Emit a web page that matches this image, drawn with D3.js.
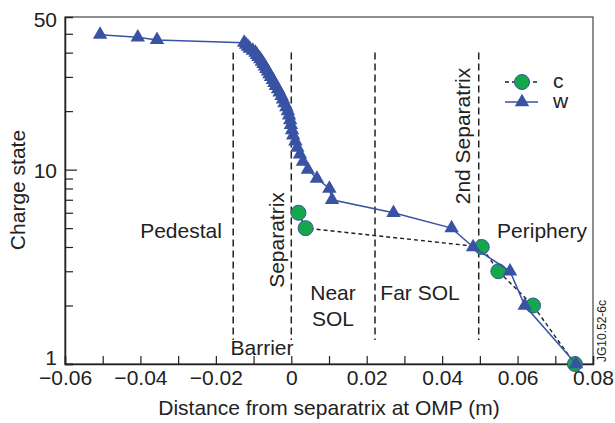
<!DOCTYPE html>
<html>
<head>
<meta charset="utf-8">
<script src="https://cdn.jsdelivr.net/npm/d3@7"></script>
<style>
  body { margin: 0; background: #fff; }
  svg { font-family: "Liberation Sans", Arial, sans-serif; }
</style>
</head>
<body>
<svg id="chart" width="615" height="423"></svg>
<script>
// w: charge state vs distance (m)
var wX = [-0.0507, -0.0407, -0.0356,
    -0.0125, -0.0120, -0.0115, -0.0110, -0.0102, -0.0095, -0.0091, -0.0087, -0.0082, -0.0078,
    -0.0074, -0.0070, -0.0066, -0.0062, -0.0058, -0.0054, -0.0049, -0.0045, -0.0041, -0.0035,
    -0.0031, -0.0026, -0.0022, -0.0018, -0.0013, -0.0009, -0.0006, -0.0003, -0.0001, 0.0002,
    0.0005, 0.0011, 0.0016, 0.0023, 0.0031, 0.0044, 0.0068, 0.0101, 0.0108,
    0.0271, 0.0425, 0.0482, 0.0580, 0.0619, 0.0755];
var wQ = [49.5, 48, 46.5,
    45, 44, 43, 42, 41, 40, 39, 38, 37, 36,
    35, 34, 33, 32, 31, 30, 29, 28, 27, 26,
    25, 24, 23, 22, 21, 20, 19, 18, 17, 16,
    15, 14, 13, 12, 11, 10, 9, 8, 7,
    6, 5, 4, 3, 2, 1];

// c
var cX = [0.0019, 0.0038, 0.0505, 0.0549, 0.0641, 0.0752];
var cQ = [6, 5, 4, 3, 2, 1];

// region boundaries (dashed verticals)
var boundaryX = [-0.0154, 0, 0.0222, 0.0497];
var boundaryQ = [1.33, 40];

var xTicks = [-0.06, -0.05, -0.04, -0.03, -0.02, -0.01, 0, 0.01, 0.02, 0.03, 0.04, 0.05, 0.06, 0.07, 0.08];
var yTicks = [1, 2, 3, 4, 5, 6, 7, 8, 9, 10, 20, 30, 40, 50];
var yLabels = ["1", "10", "50"];

var margin = {t: 17, r: 22, b: 59, l: 65};
var svg = d3.select("#chart"),
    width = +svg.attr("width") - margin.l - margin.r,
    height = +svg.attr("height") - margin.t - margin.b;

var g = svg.append("g").attr("transform", "translate(" + margin.l + "," + margin.t + ")");

var x = d3.scaleLinear().domain([-0.06, 0.08]).range([0, width]);
var y = d3.scaleLog().domain([1, 61]).range([height, 0]);

var blue = "#3953a4", green = "#14a84b", ink = "#222";

// frame
g.append("rect")
    .attr("width", width).attr("height", height)
    .attr("fill", "none").attr("stroke", "#444").attr("stroke-width", 1.2);

// x axis
var xAxis = d3.axisBottom(x)
    .tickValues(xTicks)
    .tickSize(-8)
    .tickPadding(6)
    .tickFormat(function (d) {
        var k = Math.round(d * 100);
        if (k % 2 !== 0) return "";
        return k === 0 ? "0" : d3.format(".2f")(d);
    });
var gx = g.append("g").attr("transform", "translate(0," + height + ")").call(xAxis);
gx.select(".domain").attr("stroke", ink).attr("stroke-width", 1.5);
gx.selectAll(".tick line").attr("stroke", ink).attr("stroke-width", 1.2);
gx.selectAll("text").attr("font-size", 21).attr("fill", ink).attr("font-family", "Liberation Sans, Arial, sans-serif");

// y axis
var yAxis = d3.axisLeft(y).tickValues(yTicks).tickSize(-8).tickFormat("");
var gy = g.append("g").call(yAxis);
gy.select(".domain").attr("stroke", ink).attr("stroke-width", 1.5);
gy.selectAll(".tick line")
    .attr("stroke", ink).attr("stroke-width", 1.2)
    .attr("x2", function (d) { return d === 10 ? 12 : 8; });

// y labels ("50" sits at the top of the axis in the original)
var yLabelPos = [
    {v: 1, dy: 1},
    {v: 10, dy: 8},
    {v: 61, dy: 10}
];
g.selectAll(".ylab").data(yLabels).enter().append("text")
    .attr("class", "ylab")
    .attr("x", -8)
    .attr("y", function (d, i) { return y(yLabelPos[i].v) + yLabelPos[i].dy; })
    .attr("text-anchor", "end")
    .attr("font-size", 21).attr("fill", ink)
    .text(function (d) { return d; });

// dashed region lines
g.selectAll(".bound").data(boundaryX).enter().append("line")
    .attr("class", "bound")
    .attr("x1", function (d) { return x(d); }).attr("x2", function (d) { return x(d); })
    .attr("y1", y(boundaryQ[1])).attr("y2", y(boundaryQ[0]))
    .attr("stroke", ink).attr("stroke-width", 1.5).attr("stroke-dasharray", "7,4");

// c series
var cData = cX.map(function (d, i) { return {x: d, q: cQ[i]}; });
var wData = wX.map(function (d, i) { return {x: d, q: wQ[i]}; });

var line = d3.line()
    .x(function (d) { return x(d.x); })
    .y(function (d) { return y(d.q); });

g.append("path").datum(cData)
    .attr("d", line).attr("fill", "none")
    .attr("stroke", ink).attr("stroke-width", 1.4).attr("stroke-dasharray", "4,3");

g.selectAll(".cdot").data(cData).enter().append("circle")
    .attr("class", "cdot")
    .attr("cx", function (d) { return x(d.x); })
    .attr("cy", function (d) { return y(d.q); })
    .attr("r", 7.5)
    .attr("fill", green).attr("stroke", blue).attr("stroke-width", 1);

// w series
g.append("path").datum(wData)
    .attr("d", line).attr("fill", "none")
    .attr("stroke", blue).attr("stroke-width", 1.5);

var tri = d3.symbol().type(d3.symbolTriangle).size(90);
g.selectAll(".wtri").data(wData).enter().append("path")
    .attr("class", "wtri")
    .attr("transform", function (d) { return "translate(" + x(d.x) + "," + y(d.q) + ")"; })
    .attr("d", tri)
    .attr("fill", blue);

// region labels
function label(txt, px, py, rot) {
    var t = svg.append("text")
        .attr("font-size", 21).attr("fill", ink)
        .attr("text-anchor", "middle")
        .attr("transform", "translate(" + px + "," + py + ")" + (rot ? " rotate(-90)" : ""))
        .text(txt);
    return t;
}
label("Pedestal", 181, 238);
label("Separatrix", 284, 240, true);
label("Near", 333, 300);
label("SOL", 333, 326);
label("Far SOL", 420, 300);
label("2nd Separatrix", 470, 136, true);
label("Periphery", 542, 238);
label("Barrier", 262, 355);

// legend
var legendItems = ["c", "w"];
var lg = svg.append("g").attr("transform", "translate(505,82)");
legendItems.forEach(function (name, i) {
    var row = lg.append("g").attr("transform", "translate(0," + (i * 20) + ")");
    row.append("line")
        .attr("x1", 0).attr("x2", 33)
        .attr("stroke", i === 0 ? ink : blue)
        .attr("stroke-width", 1.4)
        .attr("stroke-dasharray", i === 0 ? "4,3" : null);
    if (i === 0) {
        row.append("circle").attr("cx", 17).attr("r", 7.5)
            .attr("fill", green).attr("stroke", blue).attr("stroke-width", 1);
    } else {
        row.append("path").attr("transform", "translate(17,0)").attr("d", tri).attr("fill", blue);
    }
    row.append("text").attr("x", 48).attr("y", 6)
        .attr("font-size", 21).attr("fill", ink).text(name);
});

// axis titles
svg.append("text")
    .attr("x", margin.l + width / 2).attr("y", 415)
    .attr("text-anchor", "middle").attr("font-size", 21).attr("fill", ink)
    .text("Distance from separatrix at OMP (m)");
svg.append("text")
    .attr("transform", "translate(25," + (margin.t + 173) + ") rotate(-90)")
    .attr("text-anchor", "middle").attr("font-size", 21).attr("fill", ink)
    .text("Charge state");

// figure id
svg.append("text")
    .attr("transform", "translate(606,331) rotate(-90)")
    .attr("text-anchor", "middle").attr("font-size", 12).attr("fill", ink)
    .text("JG10.52-6c");
</script>
</body>
</html>
